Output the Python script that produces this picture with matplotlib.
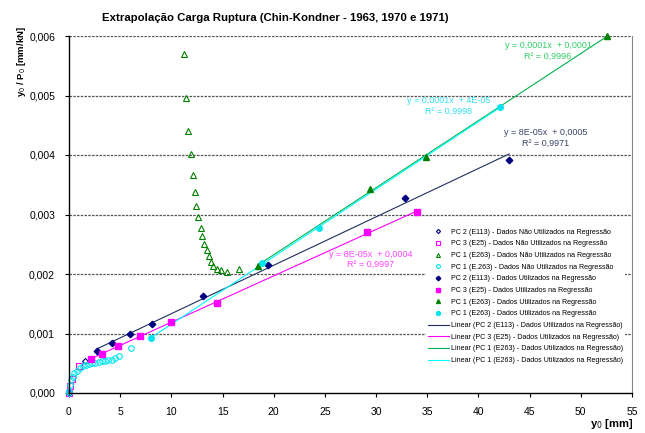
import numpy as np
import matplotlib
matplotlib.use('Agg')
import matplotlib.pyplot as plt
import matplotlib.ticker as ticker
from matplotlib import font_manager

names = {f.name for f in font_manager.fontManager.ttflist}
narrow = 'Liberation Sans Narrow' if 'Liberation Sans Narrow' in names else 'Liberation Sans'
plt.rcParams['font.family'] = [narrow, 'DejaVu Sans']

# ---- data ----
# PC 2 (E113)
pc2_unused_x = [0.0, 1.6]
pc2_unused_y = [0.0, 0.00054]
pc2_used_x = [2.76, 4.2, 5.98, 8.13, 13.1, 19.4, 32.8, 43.0]
pc2_used_y = [0.000706, 0.000835, 0.000997, 0.00116, 0.001635, 0.00215, 0.00328, 0.00392]

# PC 3 (E25)
pc3_unused_x = [0.0, 0.1, 0.32, 0.98]
pc3_unused_y = [0.0, 0.00012, 0.00023, 0.00045]
pc3_used_x = [2.11, 3.22, 4.81, 6.96, 9.95, 14.5, 29.1, 34.0]
pc3_used_y = [0.000577, 0.00066, 0.00079, 0.00096, 0.00119, 0.00151, 0.0027, 0.00305]

# PC 1 (E263) - triangles
pc1t_unused_x = [11.25, 11.45, 11.6, 11.9, 12.07, 12.3, 12.42, 12.65, 12.88, 13.04,
                 13.2, 13.46, 13.66, 13.89, 14.11, 14.47, 14.86, 15.45, 16.6]
pc1t_unused_y = [0.0057, 0.00496, 0.0044, 0.00401, 0.00366, 0.00338, 0.00315, 0.00295,
                 0.00278, 0.00264, 0.0025, 0.0024, 0.0023, 0.00221, 0.00214, 0.00208,
                 0.00206, 0.00204, 0.00209]
pc1t_used_x = [18.5, 29.4, 34.9, 52.6]
pc1t_used_y = [0.00214, 0.00343, 0.00397, 0.006]

# PC 1 (E.263) - circles
pc1c_unused_x = [0.0, 0.03, 0.1, 0.2, 0.36, 0.49, 0.75, 1.07, 1.4, 1.66, 1.95, 2.24,
                 2.57, 2.9, 3.22, 3.54, 3.83, 4.16, 4.49, 4.91, 6.02]
pc1c_unused_y = [0.0, 0.00003, 0.00013, 0.00022, 0.00027, 0.00033, 0.00037, 0.00042,
                 0.00045, 0.00047, 0.00049, 0.0005, 0.00051, 0.00052, 0.00053, 0.00054,
                 0.00055, 0.00056, 0.00059, 0.00063, 0.00075]
pc1c_used_x = [8.0, 18.9, 24.4, 42.1]
pc1c_used_y = [0.000924, 0.00219, 0.00277, 0.0048]

NAO = ' - Dados Não Utilizados na Regressão'
SIM = ' - Dados Utilizados na Regressão'

fig = plt.figure(figsize=(6.45, 4.33), dpi=100)
ax = fig.add_axes([69 / 645, 1 - 393 / 433, (632 - 69) / 645, (393 - 36) / 433])

ms = 4
ax.plot(pc2_unused_x, pc2_unused_y, 'D', ms=3, mfc='none', mec='#000080', mew=0.8,
        ls='none', clip_on=False, label='PC 2 (E113)' + NAO)
ax.plot(pc3_unused_x, pc3_unused_y, 's', ms=ms, mfc='none', mec='#ff00ff', mew=0.8,
        ls='none', clip_on=False, label='PC 3 (E25)' + NAO)
ax.plot(pc1t_unused_x, pc1t_unused_y, '^', ms=ms, mfc='none', mec='#008000', mew=0.8,
        ls='none', clip_on=False, label='PC 1 (E263)' + NAO)
ax.plot(pc1c_unused_x, pc1c_unused_y, 'o', ms=ms, mfc='none', mec='#00e5ee', mew=0.8,
        ls='none', clip_on=False, label='PC 1 (E.263)' + NAO)
ax.plot(pc2_used_x, pc2_used_y, 'D', ms=3.3, color='#000080', ls='none', clip_on=False,
        label='PC 2 (E113)' + SIM)
ax.plot(pc3_used_x, pc3_used_y, 's', ms=ms, color='#ff00ff', ls='none', clip_on=False,
        label='PC 3 (E25)' + SIM)
ax.plot(pc1t_used_x, pc1t_used_y, '^', ms=ms, color='#008000', ls='none', clip_on=False,
        label='PC 1 (E263)' + SIM)
ax.plot(pc1c_used_x, pc1c_used_y, 'o', ms=ms, color='#00e5ee', ls='none', clip_on=False,
        label='PC 1 (E263)' + SIM)

# linear trend lines fitted to the points used in the regression
fits = [
    (pc2_used_x, pc2_used_y, '#1f2f5f', 'Linear (PC 2 (E113)' + SIM + ')'),
    (pc3_used_x, pc3_used_y, '#ff00ff', 'Linear (PC 3 (E25)' + SIM + ')'),
    (pc1t_used_x, pc1t_used_y, '#00b050', 'Linear (PC 1 (E263)' + SIM + ')'),
    (pc1c_used_x, pc1c_used_y, '#00ffff', 'Linear (PC 1 (E263)' + SIM + ')'),
]
for xs, ys, c, lab in fits:
    k, b = np.polyfit(xs, ys, 1)
    xx = np.array([min(xs), max(xs)])
    ax.plot(xx, k * xx + b, color=c, lw=0.8, label=lab, zorder=1.5)

# equation labels
ax.text(46.8, 0.0058, 'y = 0,0001x  + 0,0001', color='#33cc66', fontsize=6.5, ha='center')
ax.text(46.8, 0.00562, 'R² = 0,9996', color='#33cc66', fontsize=6.5, ha='center')
ax.text(37.1, 0.00488, 'y = 0,0001x  + 4E-05', color='#33e0f0', fontsize=6.5, ha='center')
ax.text(37.1, 0.0047, 'R² = 0,9998', color='#33e0f0', fontsize=6.5, ha='center')
ax.text(46.6, 0.00433, 'y = 8E-05x  + 0,0005', color='#3a4468', fontsize=6.5, ha='center')
ax.text(46.6, 0.00415, 'R² = 0,9971', color='#3a4468', fontsize=6.5, ha='center')
ax.text(29.5, 0.00228, 'y = 8E-05x  + 0,0004', color='#ff44ff', fontsize=6.5, ha='center')
ax.text(29.5, 0.00212, 'R² = 0,9997', color='#ff44ff', fontsize=6.5, ha='center')

ax.set_xlim(0, 55)
ax.set_ylim(0, 0.006)
ax.xaxis.set_major_locator(ticker.MultipleLocator(5))
ax.yaxis.set_major_locator(ticker.MultipleLocator(0.001))
ax.yaxis.set_major_formatter(ticker.FuncFormatter(lambda v, p: f'{v:.3f}'.replace('.', ',')))
ax.tick_params(labelsize=7.5, length=3, width=0.8, direction='out', pad=7)
for lbl in ax.get_xticklabels() + ax.get_yticklabels():
    lbl.set_family(['Liberation Sans', 'DejaVu Sans'])

for yv in np.arange(0.001, 0.0061, 0.001):
    ax.axhline(yv, color='#555555', lw=0.9, ls=(0, (2, 1)), zorder=0.5)

ax.spines['top'].set_visible(False)
ax.spines['right'].set_color('#888888')
ax.spines['right'].set_linewidth(0.8)
ax.spines['left'].set_linewidth(1.0)
ax.spines['bottom'].set_linewidth(1.0)

fig.text(275 / 645, 1 - 18 / 433, 'Extrapolação Carga Ruptura (Chin-Kondner - 1963, 1970 e 1971)',
         ha='center', va='center', fontsize=8.2, fontweight='bold')
fig.text(22 / 645, 1 - 62 / 433, 'y$_0$ / P$_0$ [mm/kN]', rotation=90, ha='center', va='center',
         fontsize=6.8, fontweight='bold')
fig.text(612 / 645, 1 - 424 / 433, 'y$_0$ [mm]', ha='center', va='center',
         fontsize=8, fontweight='bold')

leg = ax.legend(loc='upper left', bbox_to_anchor=(422 / 645, 1 - 223 / 433),
                bbox_transform=fig.transFigure, fontsize=5.1, frameon=True,
                edgecolor='none', facecolor='white', framealpha=1, borderpad=0.3,
                handlelength=3.0, handletextpad=0.3, labelspacing=0.66, markerscale=0.7)

fig.savefig('out.png', dpi=100)
